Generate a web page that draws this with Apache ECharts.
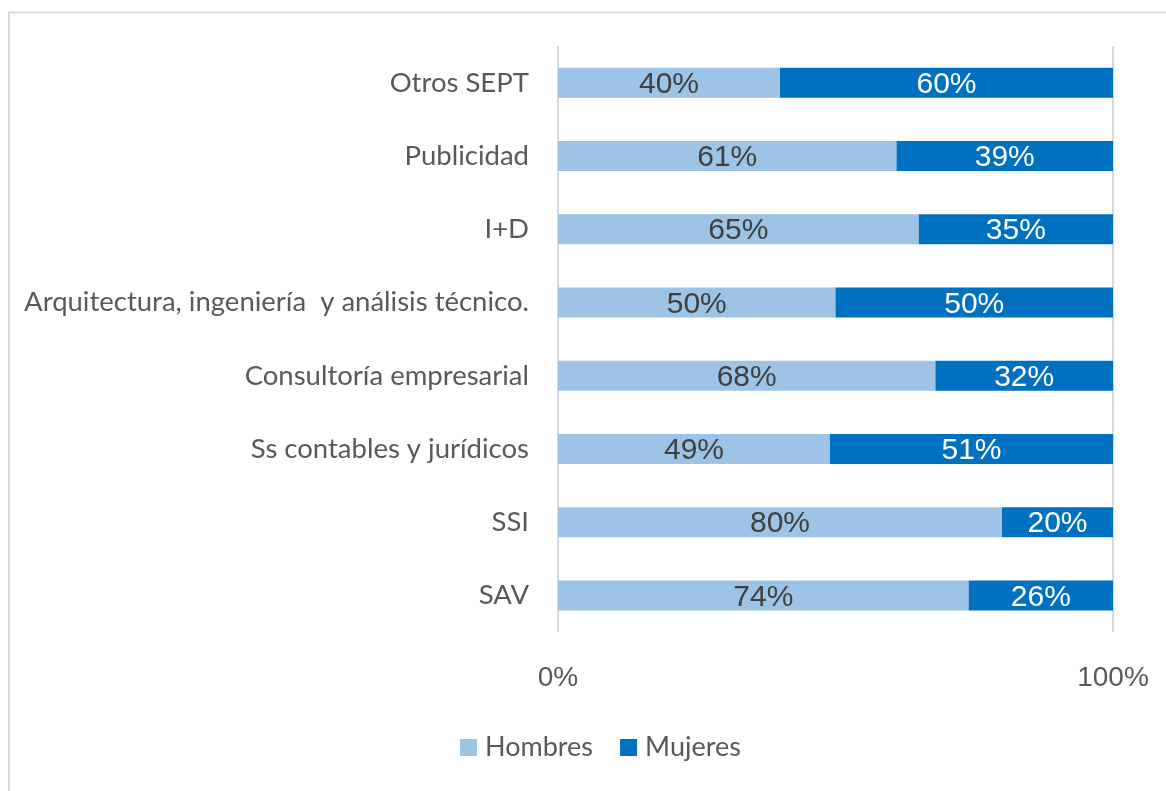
<!DOCTYPE html>
<html>
<head>
<meta charset="utf-8">
<script src="https://cdn.jsdelivr.net/npm/echarts@6/dist/echarts.min.js"></script>
<style>
  html, body { margin: 0; padding: 0; background: #fff; }
  #main { width: 1166px; height: 791px; }
</style>
</head>
<body>
<div id="main"></div>
<script>
// categories, top to bottom
const categories = [
  'Otros SEPT',
  'Publicidad',
  'I+D',
  'Arquitectura, ingeniería  y análisis técnico.',
  'Consultoría empresarial',
  'Ss contables y jurídicos',
  'SSI',
  'SAV'
]
const hombres = [40, 61, 65, 50, 68, 49, 80, 74]
const mujeres = [60, 39, 35, 50, 32, 51, 20, 26]
const seriesNames = ['Hombres', 'Mujeres']

const labelFont = 'Lato, "Open Sans", sans-serif'
const numFont = '"Liberation Sans", Arial, sans-serif'

const chart = echarts.init(document.getElementById('main'))

chart.setOption({
  animation: false,
  backgroundColor: '#fff',
  graphic: [
    // chart frame (only top and left edges are visible in the picture)
    {
      type: 'polyline',
      shape: { points: [[9, 800], [9, 12.5], [1180, 12.5]] },
      style: { stroke: '#d9d9d9', lineWidth: 2, fill: null },
      silent: true
    }
  ],
  grid: { left: 558, right: 53, top: 46, bottom: 159 },
  legend: {
    bottom: 25,
    left: 455,
    itemWidth: 17,
    itemHeight: 17,
    itemGap: 27,
    icon: 'rect',
    textStyle: { fontFamily: labelFont, fontSize: 27, color: '#595959', padding: [0, 0, 0, 3] },
    data: seriesNames
  },
  xAxis: {
    type: 'value',
    min: 0,
    max: 100,
    interval: 100,
    axisLine: { show: false },
    axisTick: { show: false },
    splitLine: { show: true, lineStyle: { color: '#d9d9d9', width: 2 } },
    axisLabel: {
      formatter: '{value}%',
      margin: 32,
      fontFamily: numFont,
      fontSize: 28,
      color: '#595959'
    }
  },
  yAxis: {
    type: 'category',
    inverse: true,
    data: categories,
    axisLine: { show: false },
    axisTick: { show: false },
    axisLabel: {
      margin: 29,
      fontFamily: labelFont,
      fontSize: 27.5,
      color: '#595959'
    }
  },
  series: [
    {
      name: seriesNames[0],
      type: 'bar',
      stack: 'total',
      barWidth: 30,
      data: hombres,
      itemStyle: { color: '#9DC3E6' },
      label: {
        show: true,
        position: 'inside',
        offset: [0, 2],
        formatter: '{c}%',
        fontFamily: numFont,
        fontSize: 30,
        color: '#404040'
      }
    },
    {
      name: seriesNames[1],
      type: 'bar',
      stack: 'total',
      barWidth: 30,
      data: mujeres,
      itemStyle: { color: '#0070C0' },
      label: {
        show: true,
        position: 'inside',
        offset: [0, 2],
        formatter: '{c}%',
        fontFamily: numFont,
        fontSize: 30,
        color: '#ffffff'
      }
    }
  ]
})
</script>
</body>
</html>
